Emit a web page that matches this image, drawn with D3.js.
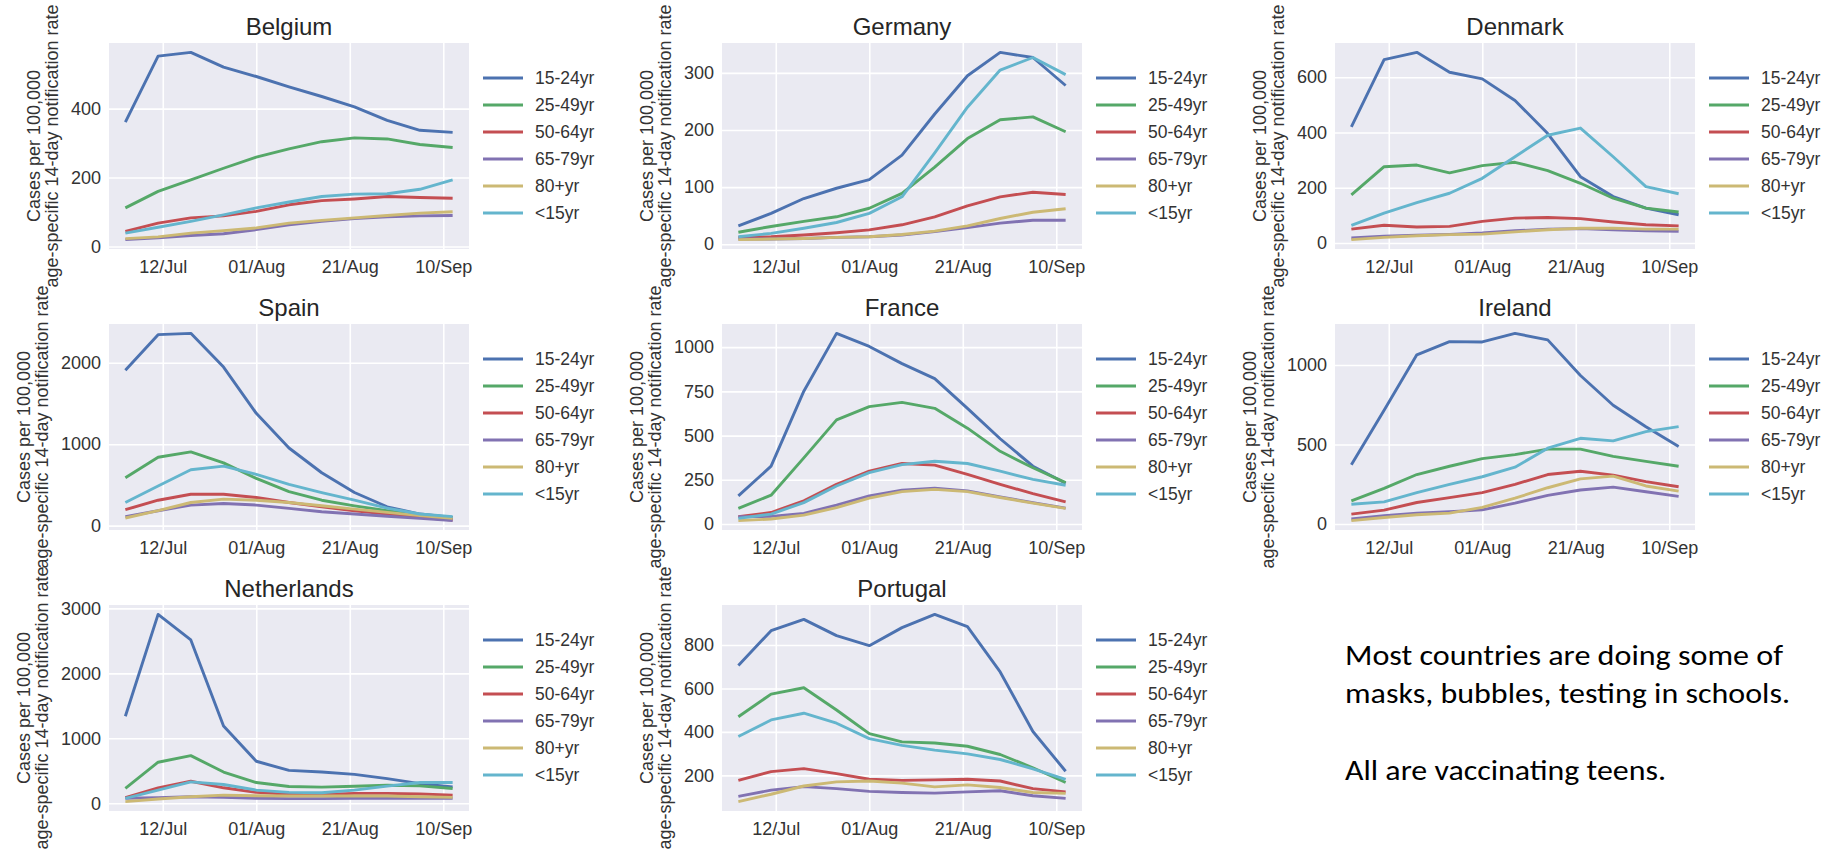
<!DOCTYPE html>
<html>
<head>
<meta charset="utf-8">
<script src="https://cdn.jsdelivr.net/npm/d3@7"></script>
<style>
  body { margin: 0; background: #fff; }
  svg { display: block; }
</style>
</head>
<body>
<div id="chart"></div>
<script>
// weekly points, 2021
const weeks = ["2021-07-04", "2021-07-11", "2021-07-18", "2021-07-25", "2021-08-01", "2021-08-08",
               "2021-08-15", "2021-08-22", "2021-08-29", "2021-09-05", "2021-09-12"];
const xTickDates = ["2021-07-12", "2021-08-01", "2021-08-21", "2021-09-10"];
const ageGroups = ["15-24yr", "25-49yr", "50-64yr", "65-79yr", "80+yr", "<15yr"];
const countries = ["Belgium", "Germany", "Denmark", "Spain", "France", "Ireland", "Netherlands", "Portugal"];

// rows follow ageGroups
const belgium = [
    [361, 552, 563, 520, 493, 463, 435, 405, 366, 337, 331],
    [112, 160, 193, 227, 259, 283, 304, 315, 312, 296, 287],
    [44, 68, 83, 89, 102, 121, 133, 138, 145, 142, 140],
    [20, 25, 32, 37, 49, 63, 73, 81, 86, 89, 90],
    [23, 28, 39, 46, 54, 68, 76, 83, 90, 97, 101],
    [39, 56, 73, 92, 112, 129, 145, 152, 153, 166, 193]
];
const germany = [
    [32, 54, 80, 98, 113, 156, 228, 295, 336, 327, 278],
    [21, 31, 40, 48, 63, 89, 135, 185, 218, 223, 197],
    [12, 13, 16, 20, 25, 34, 48, 67, 83, 91, 87],
    [9, 9, 10, 12, 13, 16, 22, 29, 37, 42, 42],
    [8, 9, 10, 12, 13, 17, 23, 32, 45, 56, 62],
    [13, 19, 28, 38, 54, 83, 160, 240, 305, 327, 297]
];
const denmark = [
    [420, 664, 690, 618, 594, 516, 396, 240, 168, 126, 102],
    [174, 276, 282, 254, 280, 292, 262, 216, 162, 126, 112],
    [50, 64, 58, 60, 78, 90, 92, 88, 76, 66, 62],
    [18, 24, 28, 31, 36, 44, 50, 52, 48, 44, 42],
    [12, 20, 26, 30, 32, 40, 48, 53, 53, 50, 50],
    [64, 108, 146, 180, 234, 312, 390, 416, 312, 204, 178]
];
const spain = [
    [1907, 2345, 2361, 1947, 1379, 953, 649, 406, 231, 142, 101],
    [588, 840, 905, 771, 580, 418, 312, 243, 183, 130, 93],
    [195, 312, 385, 385, 345, 284, 231, 183, 142, 101, 69],
    [110, 183, 252, 272, 252, 211, 170, 142, 114, 89, 61],
    [93, 183, 284, 325, 312, 284, 243, 203, 162, 122, 89],
    [284, 487, 686, 730, 629, 507, 406, 312, 215, 142, 110]
];
const france = [
    [159, 327, 751, 1078, 1004, 907, 822, 654, 482, 327, 230],
    [88, 163, 374, 589, 664, 688, 654, 542, 411, 318, 234],
    [41, 65, 131, 224, 299, 342, 333, 280, 224, 172, 125],
    [41, 43, 60, 107, 159, 191, 202, 187, 153, 121, 90],
    [19, 28, 50, 93, 146, 183, 196, 183, 150, 118, 88],
    [32, 56, 121, 215, 290, 336, 355, 342, 299, 252, 219]
];
const ireland = [
    [373, 716, 1064, 1147, 1145, 1199, 1158, 934, 747, 612, 488],
    [145, 224, 311, 363, 411, 436, 471, 471, 425, 394, 363],
    [62, 87, 135, 166, 197, 249, 311, 332, 307, 266, 234],
    [31, 52, 68, 77, 89, 131, 180, 214, 232, 203, 174],
    [21, 41, 58, 68, 104, 162, 228, 284, 301, 239, 207],
    [124, 139, 197, 249, 297, 357, 477, 539, 523, 581, 612]
];
const netherlands = [
    [1340, 2908, 2514, 1189, 647, 506, 481, 445, 379, 303, 253],
    [228, 632, 733, 481, 319, 258, 248, 263, 278, 268, 228],
    [86, 238, 339, 238, 167, 137, 137, 152, 152, 142, 126],
    [76, 86, 101, 91, 76, 71, 71, 76, 76, 76, 76],
    [25, 66, 101, 126, 116, 111, 111, 111, 111, 101, 91],
    [76, 202, 329, 288, 202, 167, 162, 202, 263, 319, 319]
];
const portugal = [
    [706, 866, 918, 843, 797, 880, 941, 885, 676, 402, 219],
    [470, 574, 603, 501, 392, 354, 349, 334, 296, 235, 167],
    [177, 217, 231, 208, 182, 177, 179, 182, 174, 139, 124],
    [103, 132, 148, 139, 126, 121, 118, 124, 129, 106, 94],
    [79, 113, 151, 170, 174, 164, 147, 156, 144, 121, 117],
    [379, 455, 486, 440, 369, 338, 316, 299, 273, 230, 182]
];

const belgiumTicks = [0, 200, 400];
const germanyTicks = [0, 100, 200, 300];
const denmarkTicks = [0, 200, 400, 600];
const spainTicks = [0, 1000, 2000];
const franceTicks = [0, 250, 500, 750, 1000];
const irelandTicks = [0, 500, 1000];
const netherlandsTicks = [0, 1000, 2000, 3000];
const portugalTicks = [200, 400, 600, 800];

const noteLines = ["Most countries are doing some of", "masks, bubbles, testing in schools.", "", "All are vaccinating teens."];

const palette = ["#4C72B0", "#55A868", "#C44E52", "#8172B2", "#CCB974", "#64B5CD"];

const seriesByCountry = [belgium, germany, denmark, spain, france, ireland, netherlands, portugal];
const ticksByCountry = [belgiumTicks, germanyTicks, denmarkTicks, spainTicks, franceTicks,
                        irelandTicks, netherlandsTicks, portugalTicks];

const W = 1840, H = 853;
const plotW = 360, plotH = 206;
const lefts = [109, 722, 1335];
const tops = [43, 324, 605];
const font = "'Liberation Sans', Arial, sans-serif";
const textColor = "#333";

let parse = d3.timeParse("%Y-%m-%d");
let dates = weeks.map(parse);
let tickDates = xTickDates.map(parse);
let halfWeek = 3.5 * 24 * 3600 * 1000;

let svg = d3.select("#chart").append("svg")
    .attr("width", W)
    .attr("height", H)
    .style("background", "#fff");

function drawPanel(name, values, yTicks, left, top) {
    let g = svg.append("g").attr("transform", `translate(${left},${top})`);

    let x = d3.scaleTime()
        .domain([new Date(+dates[0] - halfWeek), new Date(+dates[dates.length - 1] + halfWeek)])
        .range([0, plotW]);

    // matplotlib-like 5% margins
    let [lo, hi] = d3.extent(values.flat());
    let pad = (hi - lo) * 0.05;
    let y = d3.scaleLinear()
        .domain([lo - pad, hi + pad])
        .range([plotH, 0]);

    g.append("rect")
        .attr("width", plotW)
        .attr("height", plotH)
        .attr("fill", "#EAEAF2");

    // x axis + vertical grid
    let xa = g.append("g")
        .attr("transform", `translate(0,${plotH})`)
        .call(d3.axisBottom(x)
            .tickValues(tickDates)
            .tickSize(-plotH)
            .tickPadding(11)
            .tickFormat(d3.timeFormat("%d/%b")));
    xa.select(".domain").remove();
    xa.selectAll("line").attr("stroke", "#fff").attr("stroke-width", 1.6);
    xa.selectAll("text")
        .attr("fill", textColor)
        .style("font-family", font)
        .style("font-size", "18px");

    // y axis + horizontal grid
    let ya = g.append("g")
        .call(d3.axisLeft(y)
            .tickValues(yTicks)
            .tickSize(-plotW)
            .tickPadding(8)
            .tickFormat(d3.format("d")));
    ya.select(".domain").remove();
    ya.selectAll("line").attr("stroke", "#fff").attr("stroke-width", 1.6);
    ya.selectAll("text")
        .attr("fill", textColor)
        .style("font-family", font)
        .style("font-size", "18px");

    let tickW = d3.max(ya.selectAll("text").nodes(), function(n) { return n.getComputedTextLength(); });

    // the lines
    let line = d3.line()
        .x(function(d, i) { return x(dates[i]); })
        .y(function(d) { return y(d); });

    values.forEach(function(v, k) {
        g.append("path")
            .datum(v)
            .attr("fill", "none")
            .attr("stroke", palette[k])
            .attr("stroke-width", 2.9)
            .attr("stroke-linejoin", "round")
            .attr("d", line);
    });

    // title
    g.append("text")
        .attr("x", plotW / 2)
        .attr("y", -8)
        .attr("text-anchor", "middle")
        .attr("fill", "#262626")
        .style("font-family", font)
        .style("font-size", "24px")
        .text(name);

    // two-line y label, centred on the plot
    let lx = -8 - tickW - 13;
    let yl = g.append("text")
        .attr("transform", `translate(${lx},${plotH / 2}) rotate(-90)`)
        .attr("text-anchor", "middle")
        .attr("fill", textColor)
        .style("font-family", font)
        .style("font-size", "18px");
    yl.append("tspan").attr("x", 0).attr("y", -18).text("Cases per 100,000");
    yl.append("tspan").attr("x", 0).attr("y", 0).text("age-specific 14-day notification rate");

    // legend
    let lg = g.append("g").attr("transform", `translate(${plotW + 14},35)`);
    ageGroups.forEach(function(a, k) {
        lg.append("line")
            .attr("x1", 0)
            .attr("x2", 40)
            .attr("y1", k * 27)
            .attr("y2", k * 27)
            .attr("stroke", palette[k])
            .attr("stroke-width", 2.9);
        lg.append("text")
            .attr("x", 52)
            .attr("y", k * 27)
            .attr("dy", "0.35em")
            .attr("fill", textColor)
            .style("font-family", font)
            .style("font-size", "17.5px")
            .text(a);
    });
}

countries.forEach(function(c, i) {
    drawPanel(c, seriesByCountry[i], ticksByCountry[i], lefts[i % 3], tops[Math.floor(i / 3)]);
});

// side note
let noteLen = [438, 445, 0, 321];
let noteY = [665, 703, 741, 780];
noteLines.forEach(function(t, i) {
    if (!t) return;
    svg.append("text")
        .attr("x", 1345)
        .attr("y", noteY[i])
        .attr("textLength", noteLen[i])
        .attr("lengthAdjust", "spacingAndGlyphs")
        .attr("fill", "#000")
        .style("font-family", "Carlito, Calibri, Lato, sans-serif")
        .style("font-size", "28px")
        .text(t);
});
</script>
</body>
</html>
